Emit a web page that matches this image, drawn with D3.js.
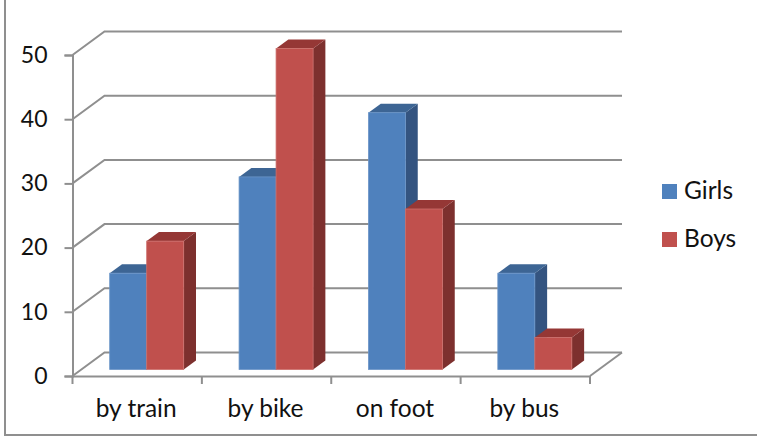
<!DOCTYPE html>
<html>
<head>
<meta charset="utf-8">
<script src="https://cdn.jsdelivr.net/npm/d3@7"></script>
<style>
html, body { margin: 0; padding: 0; background: #fff; }
svg { display: block; }
text { font-family: Lato, "Open Sans", sans-serif; fill: #111; }
</style>
</head>
<body>
<script>
const categories = ["by train", "by bike", "on foot", "by bus"];
const girls = [15, 30, 40, 15];
const boys = [20, 50, 25, 5];
const yTicks = [0, 10, 20, 30, 40, 50];
const seriesNames = ["Girls", "Boys"];

const width = 757, height = 439;
const gridColor = "#8f8f8f";
// offset of back wall from the front of the floor
const wallDx = 32, wallDy = -23.5;
// bars sit part way into the floor
const barDx = 12.3, barDy = -9, barBaseDx = 37.2, barBaseDy = -6.5, barW = 37;

const colors = {
    Girls: {front: "#4f81bd", top: "#3d6594", side: "#345480", edge: "#6b95c8"},
    Boys: {front: "#c0504d", top: "#953735", side: "#7d302e", edge: "#cc6f6c"}
};

const x = d3.scaleBand().domain(categories).range([72.5, 590]);
const y = d3.scaleLinear().domain([0, 50]).range([376, 55]);

const svg = d3.select("body")
    .append("svg")
    .attr("width", width)
    .attr("height", height);

// chart frame
svg.append("path")
    .attr("d", "M5,0V435H757")
    .attr("fill", "none")
    .attr("stroke", "#8f8f8f")
    .attr("stroke-width", 2);

// gridlines on wall and floor
const grid = svg.append("g")
    .attr("fill", "none")
    .attr("stroke", gridColor)
    .attr("stroke-width", 2);

grid.selectAll("path")
    .data(yTicks)
    .join("path")
    .attr("d", d => `M${x.range()[0]},${y(d)}L${x.range()[0] + wallDx},${y(d) + wallDy}H${x.range()[1] + wallDx}`);

grid.append("path")
    .attr("d", `M${x.range()[1]},${y(0)}L${x.range()[1] + wallDx},${y(0) + wallDy}`);

// axes
const yAxis = svg.append("g")
    .attr("transform", `translate(${x.range()[0]},0)`)
    .call(d3.axisLeft(y).tickValues(yTicks).tickSize(8).tickPadding(17));
yAxis.select(".domain").attr("stroke", gridColor).attr("stroke-width", 2);
yAxis.selectAll("line").attr("stroke", gridColor).attr("stroke-width", 2);
yAxis.selectAll("text")
    .attr("font-size", 23)
    .style("font-family", "Lato")
    .attr("fill", "#111");

const xAxis = svg.append("g")
    .attr("transform", `translate(0,${y(0)})`)
    .call(d3.axisBottom(x).tickSize(0).tickPadding(24));
xAxis.select(".domain").attr("stroke", gridColor).attr("stroke-width", 2);
xAxis.selectAll("text")
    .attr("font-size", 24.5)
    .style("font-family", "Lato")
    .attr("fill", "#111")
    .attr("dx", -1);

svg.append("g")
    .attr("stroke", gridColor)
    .attr("stroke-width", 2)
    .selectAll("line")
    .data(categories.map(c => x(c)).concat(x.range()[1]))
    .join("line")
    .attr("x1", d => d)
    .attr("x2", d => d)
    .attr("y1", y(0))
    .attr("y2", y(0) + 8);

// bars, drawn left to right so that the neighbour covers the side face
function drawBar(g, name, left, value) {
    const c = colors[name];
    const base = y(0) + barBaseDy;
    const top = y(value) + barBaseDy;
    const right = left + barW;
    g.append("path")
        .attr("fill", c.side)
        .attr("d", `M${right},${base}L${right + barDx},${base + barDy}V${top + barDy}L${right},${top}Z`);
    g.append("path")
        .attr("fill", c.top)
        .attr("d", `M${left},${top}L${left + barDx},${top + barDy}H${right + barDx}L${right},${top}Z`);
    g.append("rect")
        .attr("fill", c.front)
        .attr("stroke", c.edge)
        .attr("stroke-width", 0.8)
        .attr("x", left)
        .attr("y", top)
        .attr("width", barW)
        .attr("height", base - top);
}

const bars = svg.append("g");
categories.forEach((cat, i) => {
    drawBar(bars, "Girls", x(cat) + barBaseDx, girls[i]);
    drawBar(bars, "Boys", x(cat) + barBaseDx + barW, boys[i]);
});

// legend
const legend = svg.append("g")
    .selectAll("g")
    .data(seriesNames)
    .join("g")
    .attr("transform", (d, i) => `translate(662,${184 + i * 48})`);
legend.append("rect")
    .attr("width", 15)
    .attr("height", 15)
    .attr("fill", d => colors[d].front);
legend.append("text")
    .attr("x", 22)
    .attr("y", 15)
    .attr("font-size", 24.5)
    .text(d => d);
</script>
</body>
</html>
